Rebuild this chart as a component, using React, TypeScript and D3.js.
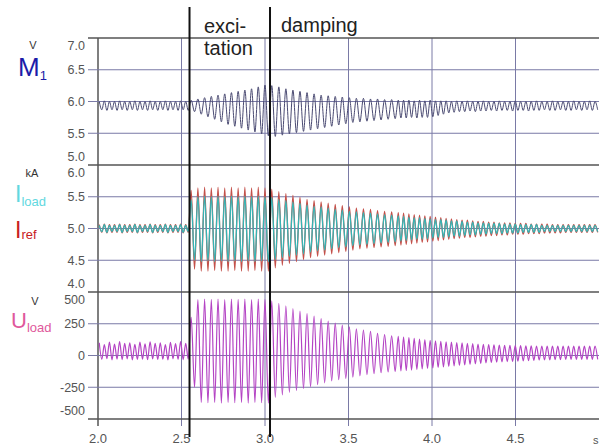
import React from "react";
import * as d3 from "d3";

// time segments: pre-ripple, excitation, damping, tail (s)
const segBounds = [2.0, 2.548, 3.03, 3.79, 5.0];
const segCycles = [18, 12, 18, 38];
const markerTimes = [2.548, 3.03];
const xTicks = [2.0, 2.5, 3.0, 3.5, 4.0, 4.5];

const m1Ticks = ["7.0", "6.5", "6.0", "5.5", "5.0"];
const iTicks = ["6.0", "5.5", "5.0", "4.5", "4.0"];
const uTicks = ["500", "250", "0", "-250", "-500"];

// per-cycle peak / trough values
const m1Peaks = [
  6.0, 6.01, 6.0, 6.0, 6.01, 6.0, 6.0, 6.01, 6.0, 6.0, 6.01, 6.0, 6.0, 6.01, 6.0, 6.0, 6.01, 6.0,
  6.02, 6.04, 6.06, 6.08, 6.1, 6.12, 6.14, 6.16, 6.18, 6.2, 6.23, 6.26,
  6.25, 6.23, 6.2, 6.18, 6.16, 6.14, 6.12, 6.1, 6.09, 6.08, 6.07, 6.06, 6.05, 6.05, 6.04, 6.04, 6.03, 6.03,
  6.02, 6.02, 6.02, 6.01, 6.02, 6.01, 6.02, 6.01, 6.01, 6.01, 6.0, 6.01, 6.0, 6.01, 6.0, 6.0, 6.01, 6.0, 6.0, 6.01,
  6.0, 6.0, 6.01, 6.0, 6.0, 6.0, 6.01, 6.0, 6.0, 6.01, 6.0, 6.0, 6.0, 6.01, 6.0, 6.0, 6.01, 6.0,
];
const m1Troughs = [
  5.87, 5.86, 5.87, 5.86, 5.87, 5.86, 5.87, 5.86, 5.87, 5.86, 5.87, 5.86, 5.87, 5.86, 5.87, 5.86, 5.87, 5.86,
  5.84, 5.8, 5.76, 5.72, 5.68, 5.64, 5.61, 5.58, 5.55, 5.52, 5.49, 5.46,
  5.45, 5.47, 5.49, 5.51, 5.53, 5.55, 5.57, 5.59, 5.61, 5.63, 5.65, 5.67, 5.68, 5.69, 5.7, 5.71, 5.72, 5.73,
  5.74, 5.74, 5.75, 5.74, 5.75, 5.75, 5.76, 5.78, 5.8, 5.82, 5.83, 5.84, 5.84, 5.85, 5.84, 5.85, 5.85, 5.86, 5.85, 5.86,
  5.86, 5.85, 5.86, 5.86, 5.85, 5.86, 5.86, 5.87, 5.86, 5.86, 5.87, 5.86, 5.86, 5.87, 5.86, 5.87, 5.86, 5.87,
];

const irefPeaks = [
  5.06, 5.07, 5.06, 5.06, 5.07, 5.06, 5.06, 5.07, 5.06, 5.06, 5.07, 5.06, 5.06, 5.07, 5.06, 5.06, 5.07, 5.06,
  5.6, 5.64, 5.65, 5.64, 5.65, 5.64, 5.65, 5.64, 5.65, 5.64, 5.65, 5.64,
  5.62, 5.58, 5.55, 5.52, 5.49, 5.46, 5.44, 5.42, 5.4, 5.38, 5.36, 5.34, 5.32, 5.31, 5.3, 5.28, 5.27, 5.26,
  5.25, 5.24, 5.23, 5.22, 5.21, 5.2, 5.19, 5.18, 5.17, 5.16, 5.15, 5.14, 5.13, 5.13, 5.12, 5.11, 5.11, 5.1, 5.1, 5.09,
  5.09, 5.09, 5.08, 5.08, 5.08, 5.07, 5.07, 5.07, 5.07, 5.06, 5.06, 5.06, 5.06, 5.06, 5.06, 5.06, 5.06, 5.06,
];
const irefTroughs = [
  4.94, 4.93, 4.94, 4.94, 4.93, 4.94, 4.94, 4.93, 4.94, 4.94, 4.93, 4.94, 4.94, 4.93, 4.94, 4.94, 4.93, 4.94,
  4.36, 4.33, 4.33, 4.34, 4.33, 4.33, 4.34, 4.33, 4.33, 4.34, 4.33, 4.33,
  4.38, 4.42, 4.45, 4.48, 4.51, 4.54, 4.56, 4.58, 4.6, 4.62, 4.64, 4.66, 4.68, 4.69, 4.7, 4.71, 4.72, 4.73,
  4.74, 4.75, 4.76, 4.77, 4.78, 4.79, 4.8, 4.81, 4.82, 4.83, 4.84, 4.85, 4.86, 4.86, 4.87, 4.88, 4.88, 4.89, 4.89, 4.9,
  4.9, 4.91, 4.91, 4.91, 4.92, 4.92, 4.92, 4.93, 4.93, 4.93, 4.93, 4.94, 4.94, 4.94, 4.94, 4.94, 4.94, 4.94,
];

const iloadPeaks = [
  5.05, 5.06, 5.05, 5.05, 5.06, 5.05, 5.05, 5.06, 5.05, 5.05, 5.06, 5.05, 5.05, 5.06, 5.05, 5.05, 5.06, 5.05,
  5.45, 5.5, 5.51, 5.5, 5.51, 5.5, 5.51, 5.5, 5.51, 5.5, 5.51, 5.5,
  5.49, 5.46, 5.44, 5.42, 5.4, 5.37, 5.35, 5.34, 5.32, 5.3, 5.29, 5.27, 5.26, 5.25, 5.24, 5.23, 5.22, 5.21,
  5.2, 5.19, 5.18, 5.17, 5.17, 5.16, 5.15, 5.14, 5.14, 5.13, 5.12, 5.12, 5.11, 5.1, 5.1, 5.09, 5.09, 5.08, 5.08, 5.08,
  5.07, 5.07, 5.07, 5.06, 5.06, 5.06, 5.06, 5.05, 5.05, 5.05, 5.05, 5.05, 5.05, 5.05, 5.05, 5.05, 5.05, 5.05,
];
const iloadTroughs = [
  4.95, 4.94, 4.95, 4.95, 4.94, 4.95, 4.95, 4.94, 4.95, 4.95, 4.94, 4.95, 4.95, 4.94, 4.95, 4.95, 4.94, 4.95,
  4.5, 4.48, 4.49, 4.48, 4.49, 4.48, 4.49, 4.48, 4.49, 4.48, 4.49, 4.48,
  4.51, 4.54, 4.56, 4.58, 4.6, 4.63, 4.65, 4.66, 4.68, 4.7, 4.71, 4.73, 4.74, 4.75, 4.76, 4.77, 4.78, 4.79,
  4.8, 4.81, 4.82, 4.83, 4.83, 4.84, 4.85, 4.86, 4.86, 4.87, 4.88, 4.88, 4.89, 4.9, 4.9, 4.91, 4.91, 4.92, 4.92, 4.92,
  4.93, 4.93, 4.93, 4.94, 4.94, 4.94, 4.94, 4.95, 4.95, 4.95, 4.95, 4.95, 4.95, 4.95, 4.95, 4.95, 4.95, 4.95,
];

const uPeaks = [
  100, 85, 105, 90, 110, 95, 100, 88, 105, 92, 108, 95, 100, 86, 104, 93, 110, 96,
  300, 440, 445, 442, 445, 440, 445, 442, 445, 440, 445, 442,
  430, 410, 390, 370, 350, 330, 310, 290, 270, 255, 240, 225, 210, 200, 190, 175, 165, 155,
  150, 145, 140, 135, 130, 125, 120, 116, 112, 108, 105, 102, 99, 96, 93, 90, 88, 86, 84, 82,
  80, 80, 78, 78, 76, 76, 75, 75, 75, 74, 74, 74, 75, 74, 75, 74, 75, 74,
];
const uTroughs = [
  -30, -25, -35, -28, -32, -26, -34, -30, -28, -33, -27, -31, -29, -35, -26, -30, -32, -28,
  -250, -370, -372, -370, -375, -370, -372, -370, -375, -370, -372, -375,
  -330, -310, -290, -275, -260, -245, -230, -215, -200, -190, -180, -170, -160, -150, -143, -136, -130, -125,
  -122, -118, -114, -110, -106, -102, -98, -94, -90, -86, -82, -78, -74, -70, -66, -62, -58, -55, -52, -50,
  -48, -46, -44, -42, -40, -38, -36, -35, -34, -33, -32, -31, -30, -30, -30, -30, -30, -30,
];

const W = 599;
const H = 446;
const left = 98;
const right = 599;
const panels = [38, 165, 292, 419];
const font = "'Liberation Sans', Arial, sans-serif";

function buildPoints(peaks: number[], troughs: number[]): [number, number][] {
  const pts: [number, number][] = [];
  let k = 0;
  for (let s = 0; s < segCycles.length; s++) {
    const t0 = segBounds[s];
    const period = (segBounds[s + 1] - t0) / segCycles[s];
    for (let i = 0; i < segCycles[s]; i++, k++) {
      const c = t0 + i * period;
      pts.push([c + period * 0.25, peaks[k]]);
      pts.push([c + period * 0.75, troughs[k]]);
    }
  }
  return pts;
}

const App = () => {
  const x = d3.scaleLinear().domain([2.0, 5.0]).range([left, right]);
  const yM = d3.scaleLinear().domain([5.0, 7.0]).range([panels[1], panels[0]]);
  const yI = d3.scaleLinear().domain([4.0, 6.0]).range([panels[2], panels[1]]);
  const yU = d3.scaleLinear().domain([-500, 500]).range([panels[3], panels[2]]);

  const mk = (y: d3.ScaleLinear<number, number>) =>
    d3
      .line<[number, number]>()
      .x((d) => x(d[0]))
      .y((d) => y(d[1]))
      .curve(d3.curveMonotoneX);

  const axes = [
    { scale: yM, ticks: m1Ticks },
    { scale: yI, ticks: iTicks },
    { scale: yU, ticks: uTicks },
  ];

  return (
    <div style={{ position: "absolute", left: 0, top: 0 }}>
      <svg width={W} height={H} style={{ display: "block", background: "#fff" }} fontFamily={font}>
        <defs>
          <clipPath id="plot">
            <rect x={left} y={0} width={right - left} height={H} />
          </clipPath>
        </defs>

        {/* vertical grid */}
        {xTicks.map((t, i) => (
          <line
            key={"vx" + i}
            x1={x(t)}
            x2={x(t)}
            y1={panels[0]}
            y2={426}
            stroke={i === 0 ? "#555" : "#7a7aa6"}
            strokeWidth={i === 0 ? 1.5 : 1}
          />
        ))}

        {/* horizontal grid + y labels */}
        {axes.map((a, ai) =>
          a.ticks.map((lab, i) => {
            const v = +lab;
            const yy = a.scale(v);
            const edge = i === 0 || i === a.ticks.length - 1;
            const dy = i === 0 ? 8 : i === a.ticks.length - 1 ? -8 : 0;
            return (
              <g key={"h" + ai + "-" + i}>
                {!(ai > 0 && i === 0) && (
                  <line
                    x1={88}
                    x2={right}
                    y1={yy}
                    y2={yy}
                    stroke={edge ? "#555" : "#7a7aa6"}
                    strokeWidth={edge ? 1.3 : 1}
                  />
                )}
                <text
                  x={85}
                  y={yy + dy}
                  dy="0.35em"
                  textAnchor="end"
                  fontSize={12.5}
                  fill="#555"
                >
                  {lab}
                </text>
              </g>
            );
          })
        )}

        {/* x labels */}
        {xTicks.map((t, i) => (
          <text key={"xl" + i} x={x(t)} y={443} textAnchor="middle" fontSize={13} fill="#555">
            {t.toFixed(1)}
          </text>
        ))}
        <text x={593} y={444} fontSize={11} fill="#555">
          s
        </text>

        {/* traces */}
        <g clipPath="url(#plot)" fill="none">
          <path d={mk(yM)(buildPoints(m1Peaks, m1Troughs)) || ""} stroke="#4a4a72" strokeWidth={1} />
          <path d={mk(yI)(buildPoints(irefPeaks, irefTroughs)) || ""} stroke="#c4504a" strokeWidth={1.3} />
          <path d={mk(yI)(buildPoints(iloadPeaks, iloadTroughs)) || ""} stroke="#36b4b4" strokeWidth={1.3} />
          <path d={mk(yU)(buildPoints(uPeaks, uTroughs)) || ""} stroke="#b444c4" strokeWidth={1.2} />
        </g>

        {/* phase markers */}
        {markerTimes.map((t, i) => (
          <line key={"m" + i} x1={x(t)} x2={x(t)} y1={7} y2={437} stroke="#111" strokeWidth={2} />
        ))}
        <text x={204} y={33} fontSize={20} fill="#222">
          exci-
        </text>
        <text x={204} y={55} fontSize={20} fill="#222">
          tation
        </text>
        <text x={281} y={32} fontSize={20} fill="#222">
          damping
        </text>

        {/* channel labels */}
        <text x={33} y={49} fontSize={11} fill="#333" textAnchor="middle">
          V
        </text>
        <text x={18} y={76} fontSize={26} fill="#1c1ca8">
          M
          <tspan fontSize={13} dy={4}>
            1
          </tspan>
        </text>
        <text x={32} y={177} fontSize={11} fill="#333" textAnchor="middle">
          kA
        </text>
        <text x={15} y={202} fontSize={23} fill="#62d8e0">
          I
          <tspan fontSize={13} dy={4}>
            load
          </tspan>
        </text>
        <text x={15} y={238} fontSize={23} fill="#c8201e">
          I
          <tspan fontSize={13} dy={1}>
            ref
          </tspan>
        </text>
        <text x={35} y={305} fontSize={11} fill="#333" textAnchor="middle">
          V
        </text>
        <text x={11} y={328} fontSize={22} fill="#e0589c">
          U
          <tspan fontSize={13} dy={4}>
            load
          </tspan>
        </text>
      </svg>
    </div>
  );
};

export default App;
